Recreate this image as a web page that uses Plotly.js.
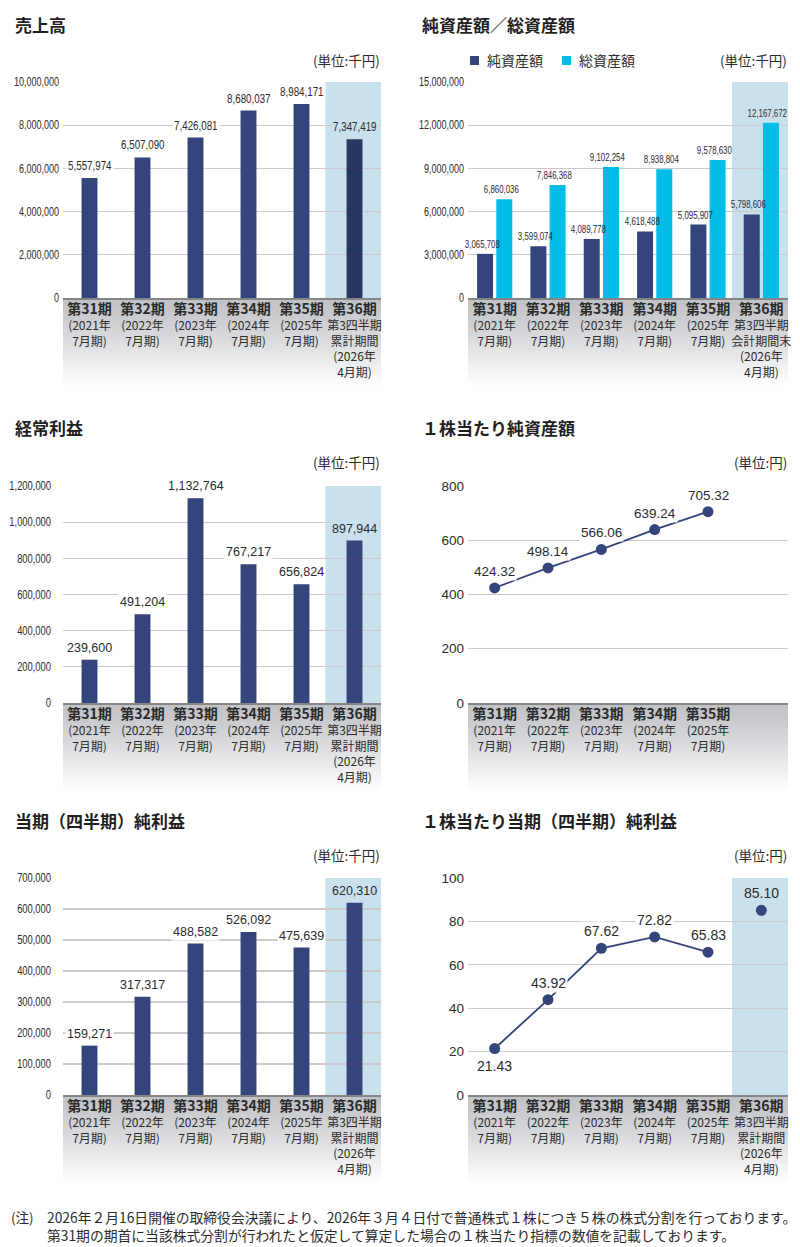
<!DOCTYPE html>
<html>
<head>
<meta charset="utf-8">
<script src="https://cdn.plot.ly/plotly-3.0.1.min.js"></script>
<style>
  html, body { margin: 0; padding: 0; background: #ffffff; }
  #chart { width: 800px; height: 1247px; }
</style>
</head>
<body>
<div id="chart"></div>
<script>
// ---- data ----
const periodNames = ['第31期', '第32期', '第33期', '第34期', '第35期', '第36期'];
const fiscalNotes = ['(2021年<br>7月期)', '(2022年<br>7月期)', '(2023年<br>7月期)', '(2024年<br>7月期)', '(2025年<br>7月期)'];
const q3CumulativeNote = '第3四半期<br>累計期間<br>(2026年<br>4月期)';
const q3PeriodEndNote = '第3四半期<br>会計期間末<br>(2026年<br>4月期)';

const sales = [5557974, 6507090, 7426081, 8680037, 8984171, 7347419];
const netAssets = [3065708, 3599074, 4089778, 4618488, 5095907, 5798606];
const totalAssets = [6860036, 7846368, 9102254, 8938804, 9578630, 12167672];
const ordinaryIncome = [239600, 491204, 1132764, 767217, 656824, 897944];
const bookValuePerShare = [424.32, 498.14, 566.06, 639.24, 705.32];
const netIncome = [159271, 317317, 488582, 526092, 475639, 620310];
const earningsPerShare = [21.43, 43.92, 67.62, 72.82, 65.83, 85.10];

const titles = ['売上高', '純資産額／総資産額', '経常利益', '１株当たり純資産額', '当期（四半期）純利益', '１株当たり当期（四半期）純利益'];
const unitThousandYen = '(単位:千円)';
const unitYen = '(単位:円)';
const legendNames = ['純資産額', '総資産額'];
const footnoteMark = '(注)';
const footnoteLines = [
  '2026年２月16日開催の取締役会決議により、2026年３月４日付で普通株式１株につき５株の株式分割を行っております。',
  '第31期の期首に当該株式分割が行われたと仮定して算定した場合の１株当たり指標の数値を記載しております。'
];

// ---- styling ----
const W = 800, H = 1247;
const fx = p => p / W;
const fy = p => 1 - p / H;

const NAVY = '#33457a';
const NAVY_DARK = '#27375f';
const CYAN = '#00bde8';
const BAND = '#c9e1ec';
const GRID = '#cbcbcb';
const TEXT = '#2b2b2b';
const CJK = '"Noto Sans CJK JP", "Noto Sans CJK SC", sans-serif';
const SANS = '"Liberation Sans", Arial, sans-serif';

// panel frames (pixels)
const frames = [
  { left: 63,  right: 381, top: 82,  bottom: 298,  titleY: 25,  unitY: 60 },
  { left: 468, right: 788, top: 82,  bottom: 298,  titleY: 25,  unitY: 60 },
  { left: 63,  right: 381, top: 486, bottom: 703,  titleY: 427, unitY: 462 },
  { left: 468, right: 788, top: 486, bottom: 703,  titleY: 427, unitY: 462 },
  { left: 63,  right: 381, top: 878, bottom: 1095, titleY: 820, unitY: 855 },
  { left: 468, right: 788, top: 878, bottom: 1095, titleY: 820, unitY: 855 }
];

function tickText(note, i) {
  return '<span style="font-size:14px;font-weight:bold">' + periodNames[i] + '</span><br>' + note;
}
const ticksFiscal = fiscalNotes.map(tickText);
const ticksCumulative = ticksFiscal.concat([tickText(q3CumulativeNote, 5)]);
const ticksPeriodEnd = ticksFiscal.concat([tickText(q3PeriodEndNote, 5)]);

const fmtInt = v => v.toLocaleString('en-US');
const fmt2 = v => v.toFixed(2);

const layout = {
  width: W, height: H,
  margin: { l: 0, r: 0, t: 0, b: 0 },
  paper_bgcolor: '#ffffff',
  plot_bgcolor: 'rgba(0,0,0,0)',
  showlegend: false,
  barmode: 'group',
  font: { family: CJK, color: TEXT },
  shapes: [],
  annotations: []
};

// horizontal squeeze applied to numeric labels after drawing (condensed figures)
const squeezeTicks = { y: 0.75, y2: 0.75, y3: 0.78, y5: 0.78 };
const squeezeAnnotations = [];

const yTickSpec = [
  { max: 10000000, dtick: 2000000, font: { family: SANS, size: 12 },   standoff: 3 },
  { max: 15000000, dtick: 3000000, font: { family: SANS, size: 12 },   standoff: 3 },
  { max: 1200000,  dtick: 200000,  font: { family: SANS, size: 12 },   standoff: 11 },
  { max: 800,      dtick: 200,     font: { family: SANS, size: 13.5 }, standoff: 3 },
  { max: 700000,   dtick: 100000,  font: { family: SANS, size: 12 },   standoff: 11 },
  { max: 100,      dtick: 20,      font: { family: SANS, size: 13.5 }, standoff: 3 }
];
const xTicks = [
  { vals: periodNames, text: ticksCumulative },
  { vals: periodNames, text: ticksPeriodEnd },
  { vals: periodNames, text: ticksCumulative },
  { vals: periodNames.slice(0, 5), text: ticksFiscal },
  { vals: periodNames, text: ticksCumulative },
  { vals: periodNames, text: ticksCumulative }
];

frames.forEach((f, k) => {
  const n = k === 0 ? '' : String(k + 1);
  const ys = yTickSpec[k];
  layout['xaxis' + n] = {
    domain: [fx(f.left), fx(f.right)],
    anchor: 'y' + n,
    type: 'category',
    categoryorder: 'array',
    categoryarray: periodNames,
    range: [-0.5, 5.5],
    showgrid: false, zeroline: false,
    showline: true, linecolor: '#858585', linewidth: 2,
    ticks: '',
    tickmode: 'array',
    tickvals: xTicks[k].vals,
    ticktext: xTicks[k].text,
    tickfont: { family: CJK, size: 12, color: TEXT },
    ticklabelstandoff: 0,
    tickangle: 0,
    fixedrange: true
  };
  layout['yaxis' + n] = {
    domain: [fy(f.bottom), fy(f.top)],
    anchor: 'x' + n,
    range: [0, ys.max],
    tick0: 0, dtick: ys.dtick,
    tickformat: ',d',
    showgrid: true, gridcolor: GRID, gridwidth: 1.3,
    zeroline: false, showline: false,
    ticks: '',
    tickfont: Object.assign({ color: TEXT }, ys.font),
    ticklabelstandoff: ys.standoff,
    fixedrange: true
  };

  // grey category strip under each panel, fading to white
  const stripTop = f.bottom + 1, stripBottom = f.bottom + 89, steps = 44;
  const c0 = [192, 194, 198];
  for (let s = 0; s < steps; s++) {
    const t = s / (steps - 1);
    const c = c0.map(v => Math.round(v + (255 - v) * Math.pow(t, 1.15)));
    const y0 = stripTop + (stripBottom - stripTop) * s / steps;
    const y1 = stripTop + (stripBottom - stripTop) * (s + 1) / steps + 0.6;
    layout.shapes.push({
      type: 'rect', xref: 'paper', yref: 'paper', layer: 'below',
      x0: fx(f.left), x1: fx(f.right), y0: fy(y1), y1: fy(y0),
      fillcolor: 'rgb(' + c.join(',') + ')', line: { width: 0 }
    });
  }

  // highlighted latest period column
  if (k !== 3) {
    layout.shapes.push({
      type: 'rect', xref: 'x' + n, yref: 'y' + n, layer: 'below',
      x0: 4.45, x1: 5.5, y0: 0, y1: ys.max,
      fillcolor: BAND, line: { width: 0 }
    });
  }

  // panel title and unit
  layout.annotations.push({
    xref: 'paper', yref: 'paper', x: fx(k % 2 === 0 ? 13 : 420), y: fy(f.titleY),
    xanchor: 'left', yanchor: 'middle', showarrow: false,
    text: '<b>' + titles[k] + '</b>',
    font: { family: CJK, size: 17, color: '#1f1f1f' }
  });
  layout.annotations.push({
    xref: 'paper', yref: 'paper', x: fx(f.right + 1), y: fy(f.unitY),
    xanchor: 'right', yanchor: 'middle', showarrow: false,
    text: (k === 3 || k === 5) ? unitYen : unitThousandYen,
    font: { family: CJK, size: 13.5, color: TEXT }
  });
});

// legend for net / total assets
[[NAVY, 470, legendNames[0]], [CYAN, 562, legendNames[1]]].forEach(([color, x, name]) => {
  layout.shapes.push({
    type: 'rect', xref: 'paper', yref: 'paper',
    x0: fx(x), x1: fx(x + 9), y0: fy(65), y1: fy(56),
    fillcolor: color, line: { width: 0 }
  });
  layout.annotations.push({
    xref: 'paper', yref: 'paper', x: fx(x + 15), y: fy(60),
    xanchor: 'left', yanchor: 'middle', showarrow: false,
    text: name, font: { family: CJK, size: 14, color: TEXT }
  });
});

// footnote
layout.annotations.push({
  xref: 'paper', yref: 'paper', x: fx(9), y: fy(1217),
  xanchor: 'left', yanchor: 'middle', showarrow: false,
  text: footnoteMark, font: { family: CJK, size: 13.5, color: TEXT }
});
footnoteLines.forEach((line, i) => {
  layout.annotations.push({
    xref: 'paper', yref: 'paper', x: fx(45), y: fy(1217 + i * 18),
    xanchor: 'left', yanchor: 'middle', showarrow: false,
    text: line, font: { family: CJK, size: 13.8, color: TEXT }
  });
});

// value labels
function barLabels(values, axisN, font, opts) {
  values.forEach((v, i) => {
    if (opts.squeeze) squeezeAnnotations.push([layout.annotations.length, opts.squeeze]);
    layout.annotations.push({
      xref: 'x' + axisN, yref: 'y' + axisN,
      x: i + (opts.dx || 0), y: v,
      xanchor: 'center', yanchor: 'bottom',
      yshift: opts.yshift, xshift: opts.xshift || 0,
      showarrow: false, text: opts.fmt(v),
      font: Object.assign({ color: TEXT }, font),
      bgcolor: opts.bg ? (i === 5 && opts.highlight ? BAND : '#ffffff') : 'rgba(0,0,0,0)',
      borderpad: 1
    });
  });
}
barLabels(sales, '', { family: SANS, size: 12.5 }, { yshift: 3, fmt: fmtInt, bg: true, highlight: true, squeeze: 0.78 });
barLabels(netAssets, '2', { family: SANS, size: 10.5 }, { dx: -0.18, xshift: -3, yshift: 2, fmt: fmtInt, squeeze: 0.75 });
barLabels(totalAssets, '2', { family: SANS, size: 10.5 }, { dx: 0.18, xshift: -3, yshift: 2, fmt: fmtInt, squeeze: 0.75 });
barLabels(ordinaryIncome, '3', { family: SANS, size: 12.5 }, { yshift: 3, fmt: fmtInt, bg: true, highlight: true });
barLabels(bookValuePerShare, '4', { family: SANS, size: 13.5 }, { yshift: 7, fmt: fmt2, bg: true });
barLabels(netIncome, '5', { family: SANS, size: 12.5 }, { yshift: 3, fmt: fmtInt, bg: true, highlight: true });
earningsPerShare.forEach((v, i) => {
  layout.annotations.push({
    xref: 'x6', yref: 'y6', x: i, y: v,
    xanchor: 'center', yanchor: i === 0 ? 'top' : 'bottom',
    yshift: i === 0 ? -7 : 7,
    showarrow: false, text: fmt2(v),
    font: { family: SANS, size: 14, color: TEXT },
    bgcolor: i === 5 ? BAND : '#ffffff', borderpad: 1
  });
});

// ---- traces ----
const salesColors = sales.map((_, i) => i === 5 ? NAVY_DARK : NAVY);
const data = [
  { type: 'bar', x: periodNames, y: sales, xaxis: 'x', yaxis: 'y', width: 0.3,
    marker: { color: salesColors }, hoverinfo: 'skip' },
  { type: 'bar', name: legendNames[0], x: periodNames, y: netAssets, xaxis: 'x2', yaxis: 'y2',
    width: 0.3, offset: -0.33, marker: { color: NAVY }, hoverinfo: 'skip' },
  { type: 'bar', name: legendNames[1], x: periodNames, y: totalAssets, xaxis: 'x2', yaxis: 'y2',
    width: 0.3, offset: 0.03, marker: { color: CYAN }, hoverinfo: 'skip' },
  { type: 'bar', x: periodNames, y: ordinaryIncome, xaxis: 'x3', yaxis: 'y3', width: 0.3,
    marker: { color: NAVY }, hoverinfo: 'skip' },
  { type: 'scatter', mode: 'lines+markers', x: periodNames.slice(0, 5), y: bookValuePerShare,
    xaxis: 'x4', yaxis: 'y4', line: { color: NAVY, width: 1.8 },
    marker: { color: NAVY, size: 11 }, hoverinfo: 'skip' },
  { type: 'bar', x: periodNames, y: netIncome, xaxis: 'x5', yaxis: 'y5', width: 0.3,
    marker: { color: NAVY }, hoverinfo: 'skip' },
  { type: 'scatter', mode: 'lines', x: periodNames.slice(0, 5), y: earningsPerShare.slice(0, 5),
    xaxis: 'x6', yaxis: 'y6', line: { color: NAVY, width: 1.8 }, hoverinfo: 'skip' },
  { type: 'scatter', mode: 'markers', x: periodNames, y: earningsPerShare,
    xaxis: 'x6', yaxis: 'y6', marker: { color: NAVY, size: 11 }, hoverinfo: 'skip' }
];

// condense a text element horizontally while keeping its anchor point
function squeezeText(el, factor) {
  const len = el.getComputedTextLength();
  if (!len) return 0;
  el.setAttribute('textLength', (len * factor).toFixed(2));
  el.setAttribute('lengthAdjust', 'spacingAndGlyphs');
  return len * (1 - factor);
}

Plotly.newPlot('chart', data, layout, { displayModeBar: false, staticPlot: true }).then(gd => {
  Object.keys(squeezeTicks).forEach(id => {
    gd.querySelectorAll('g.' + id + 'tick text').forEach(t => squeezeText(t, squeezeTicks[id]));
  });
  squeezeAnnotations.forEach(([idx, factor]) => {
    const g = gd.querySelector('g.annotation[data-index="' + idx + '"]');
    if (!g) return;
    const t = g.querySelector('text.annotation-text');
    if (!t) return;
    const saved = squeezeText(t, factor);
    const bg = g.querySelector('rect.bg');
    if (bg && saved) {
      const w = parseFloat(bg.getAttribute('width'));
      const x = parseFloat(bg.getAttribute('x') || '0');
      bg.setAttribute('width', (w - saved).toFixed(2));
      bg.setAttribute('x', (x + saved / 2).toFixed(2));
    }
  });
});
</script>
</body>
</html>
